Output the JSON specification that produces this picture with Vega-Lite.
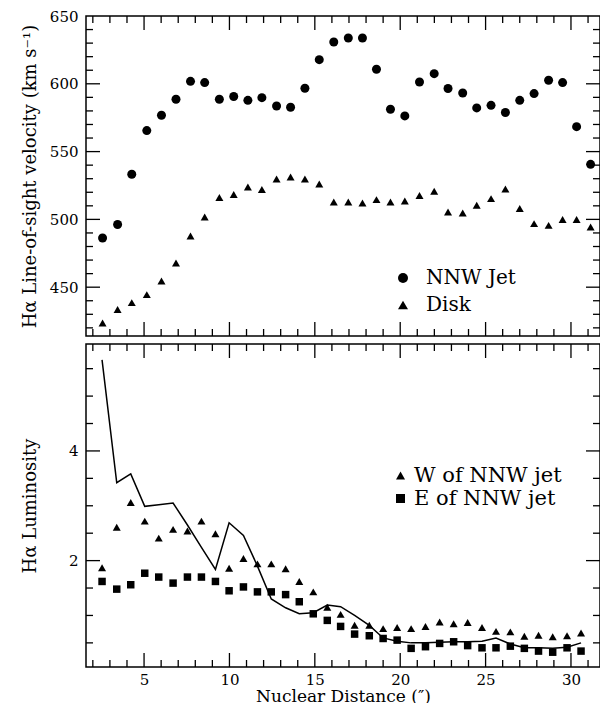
{
  "$schema": "https://vega.github.io/schema/vega-lite/v6.json",
  "padding": {"left": 20, "top": 8, "right": 1, "bottom": 0},
  "spacing": 0,
  "config": {
    "view": {"stroke": "black", "strokeWidth": 1.5},
    "font": "DejaVu Serif",
    "axis": {"labelFont": "DejaVu Serif", "titleFont": "DejaVu Serif", "labelColor": "black", "titleColor": "black", "ticks": false, "domain": false, "grid": false, "labelFontSize": 15, "titleFontSize": 18, "titleFontWeight": "normal", "labelOverlap": false, "labelFlush": false},
    "legend": {"labelFont": "DejaVu Serif", "labelColor": "black", "title": null, "padding": 0, "symbolFillColor": "black", "symbolStrokeColor": "black", "symbolStrokeWidth": 0}
  },
  "datasets": {
    "tx": [
      {"t": 2, "k": "minor"}, {"t": 3, "k": "minor"}, {"t": 4, "k": "minor"}, {"t": 5, "k": "major"}, {"t": 6, "k": "minor"}, {"t": 7, "k": "minor"}, {"t": 8, "k": "minor"}, {"t": 9, "k": "minor"}, {"t": 10, "k": "major"}, {"t": 11, "k": "minor"}, {"t": 12, "k": "minor"}, {"t": 13, "k": "minor"}, {"t": 14, "k": "minor"}, {"t": 15, "k": "major"}, {"t": 16, "k": "minor"}, {"t": 17, "k": "minor"}, {"t": 18, "k": "minor"}, {"t": 19, "k": "minor"}, {"t": 20, "k": "major"}, {"t": 21, "k": "minor"}, {"t": 22, "k": "minor"}, {"t": 23, "k": "minor"}, {"t": 24, "k": "minor"}, {"t": 25, "k": "major"}, {"t": 26, "k": "minor"}, {"t": 27, "k": "minor"}, {"t": 28, "k": "minor"}, {"t": 29, "k": "minor"}, {"t": 30, "k": "major"}, {"t": 31, "k": "minor"}
    ],
    "tv": [
      {"t": 420, "k": "minor"}, {"t": 430, "k": "minor"}, {"t": 440, "k": "minor"}, {"t": 450, "k": "major"}, {"t": 460, "k": "minor"}, {"t": 470, "k": "minor"}, {"t": 480, "k": "minor"}, {"t": 490, "k": "minor"}, {"t": 500, "k": "major"}, {"t": 510, "k": "minor"}, {"t": 520, "k": "minor"}, {"t": 530, "k": "minor"}, {"t": 540, "k": "minor"}, {"t": 550, "k": "major"}, {"t": 560, "k": "minor"}, {"t": 570, "k": "minor"}, {"t": 580, "k": "minor"}, {"t": 590, "k": "minor"}, {"t": 600, "k": "major"}, {"t": 610, "k": "minor"}, {"t": 620, "k": "minor"}, {"t": 630, "k": "minor"}, {"t": 640, "k": "minor"}
    ],
    "tl": [
      {"t": 0.5, "k": "minor"}, {"t": 1, "k": "minor"}, {"t": 1.5, "k": "minor"}, {"t": 2, "k": "major"}, {"t": 2.5, "k": "minor"}, {"t": 3, "k": "minor"}, {"t": 3.5, "k": "minor"}, {"t": 4, "k": "major"}, {"t": 4.5, "k": "minor"}, {"t": 5, "k": "minor"}, {"t": 5.5, "k": "minor"}
    ],
    "vel": [
      {"d": 2.57, "v": 486.3, "s": "NNW Jet"}, {"d": 3.45, "v": 496.2, "s": "NNW Jet"}, {"d": 4.28, "v": 533.3, "s": "NNW Jet"}, {"d": 5.16, "v": 565.5, "s": "NNW Jet"}, {"d": 6.02, "v": 576.8, "s": "NNW Jet"}, {"d": 6.87, "v": 588.6, "s": "NNW Jet"}, {"d": 7.72, "v": 601.8, "s": "NNW Jet"}, {"d": 8.55, "v": 600.9, "s": "NNW Jet"}, {"d": 9.41, "v": 588.6, "s": "NNW Jet"}, {"d": 10.25, "v": 590.6, "s": "NNW Jet"}, {"d": 11.08, "v": 587.8, "s": "NNW Jet"}, {"d": 11.9, "v": 589.8, "s": "NNW Jet"}, {"d": 12.76, "v": 583.6, "s": "NNW Jet"}, {"d": 13.58, "v": 582.7, "s": "NNW Jet"}, {"d": 14.42, "v": 596.7, "s": "NNW Jet"}, {"d": 15.26, "v": 617.8, "s": "NNW Jet"}, {"d": 16.11, "v": 630.8, "s": "NNW Jet"}, {"d": 16.96, "v": 633.8, "s": "NNW Jet"}, {"d": 17.79, "v": 633.8, "s": "NNW Jet"}, {"d": 18.61, "v": 610.7, "s": "NNW Jet"}, {"d": 19.43, "v": 581.2, "s": "NNW Jet"}, {"d": 20.27, "v": 576.3, "s": "NNW Jet"}, {"d": 21.13, "v": 601.3, "s": "NNW Jet"}, {"d": 21.99, "v": 607.5, "s": "NNW Jet"}, {"d": 22.8, "v": 596.5, "s": "NNW Jet"}, {"d": 23.66, "v": 593.2, "s": "NNW Jet"}, {"d": 24.48, "v": 582.2, "s": "NNW Jet"}, {"d": 25.32, "v": 584.1, "s": "NNW Jet"}, {"d": 26.16, "v": 578.8, "s": "NNW Jet"}, {"d": 27.0, "v": 587.8, "s": "NNW Jet"}, {"d": 27.84, "v": 592.8, "s": "NNW Jet"}, {"d": 28.69, "v": 602.6, "s": "NNW Jet"}, {"d": 29.51, "v": 600.9, "s": "NNW Jet"}, {"d": 30.33, "v": 568.4, "s": "NNW Jet"}, {"d": 31.15, "v": 540.6, "s": "NNW Jet"},
      {"d": 2.57, "v": 423.6, "s": "Disk"}, {"d": 3.45, "v": 433.5, "s": "Disk"}, {"d": 4.28, "v": 438.6, "s": "Disk"}, {"d": 5.16, "v": 444.5, "s": "Disk"}, {"d": 6.02, "v": 454.6, "s": "Disk"}, {"d": 6.87, "v": 467.8, "s": "Disk"}, {"d": 7.72, "v": 487.8, "s": "Disk"}, {"d": 8.55, "v": 501.8, "s": "Disk"}, {"d": 9.41, "v": 516.1, "s": "Disk"}, {"d": 10.25, "v": 518.3, "s": "Disk"}, {"d": 11.08, "v": 523.9, "s": "Disk"}, {"d": 11.9, "v": 522.0, "s": "Disk"}, {"d": 12.76, "v": 529.8, "s": "Disk"}, {"d": 13.58, "v": 531.3, "s": "Disk"}, {"d": 14.42, "v": 529.8, "s": "Disk"}, {"d": 15.26, "v": 526.1, "s": "Disk"}, {"d": 16.11, "v": 512.8, "s": "Disk"}, {"d": 16.96, "v": 512.8, "s": "Disk"}, {"d": 17.79, "v": 512.1, "s": "Disk"}, {"d": 18.61, "v": 514.6, "s": "Disk"}, {"d": 19.43, "v": 512.8, "s": "Disk"}, {"d": 20.27, "v": 513.6, "s": "Disk"}, {"d": 21.13, "v": 517.6, "s": "Disk"}, {"d": 21.99, "v": 520.7, "s": "Disk"}, {"d": 22.8, "v": 505.5, "s": "Disk"}, {"d": 23.66, "v": 504.7, "s": "Disk"}, {"d": 24.48, "v": 510.4, "s": "Disk"}, {"d": 25.32, "v": 515.3, "s": "Disk"}, {"d": 26.16, "v": 522.4, "s": "Disk"}, {"d": 27.0, "v": 508.0, "s": "Disk"}, {"d": 27.84, "v": 496.9, "s": "Disk"}, {"d": 28.69, "v": 495.6, "s": "Disk"}, {"d": 29.51, "v": 499.9, "s": "Disk"}, {"d": 30.33, "v": 499.9, "s": "Disk"}, {"d": 31.15, "v": 494.4, "s": "Disk"}
    ],
    "lum": [
      {"d": 2.54, "L": 5.66, "s": "total"}, {"d": 3.40, "L": 3.42, "s": "total"}, {"d": 4.22, "L": 3.58, "s": "total"}, {"d": 5.04, "L": 2.99, "s": "total"}, {"d": 5.86, "L": 3.02, "s": "total"}, {"d": 6.70, "L": 3.05, "s": "total"}, {"d": 7.54, "L": 2.65, "s": "total"}, {"d": 8.36, "L": 2.24, "s": "total"}, {"d": 9.18, "L": 1.84, "s": "total"}, {"d": 9.98, "L": 2.69, "s": "total"}, {"d": 10.82, "L": 2.46, "s": "total"}, {"d": 11.64, "L": 1.90, "s": "total"}, {"d": 12.45, "L": 1.30, "s": "total"}, {"d": 13.29, "L": 1.14, "s": "total"}, {"d": 14.09, "L": 1.03, "s": "total"}, {"d": 14.91, "L": 1.05, "s": "total"}, {"d": 15.73, "L": 1.19, "s": "total"}, {"d": 16.51, "L": 1.16, "s": "total"}, {"d": 17.33, "L": 1.0, "s": "total"}, {"d": 18.19, "L": 0.82, "s": "total"}, {"d": 19.0, "L": 0.59, "s": "total"}, {"d": 19.82, "L": 0.53, "s": "total"}, {"d": 20.64, "L": 0.50, "s": "total"}, {"d": 21.48, "L": 0.50, "s": "total"}, {"d": 22.31, "L": 0.51, "s": "total"}, {"d": 23.13, "L": 0.52, "s": "total"}, {"d": 23.95, "L": 0.52, "s": "total"}, {"d": 24.79, "L": 0.53, "s": "total"}, {"d": 25.61, "L": 0.59, "s": "total"}, {"d": 26.45, "L": 0.48, "s": "total"}, {"d": 27.27, "L": 0.41, "s": "total"}, {"d": 28.1, "L": 0.41, "s": "total"}, {"d": 28.93, "L": 0.40, "s": "total"}, {"d": 29.77, "L": 0.42, "s": "total"}, {"d": 30.59, "L": 0.50, "s": "total"},
      {"d": 2.54, "L": 1.87, "s": "W of NNW jet"}, {"d": 3.40, "L": 2.61, "s": "W of NNW jet"}, {"d": 4.22, "L": 3.06, "s": "W of NNW jet"}, {"d": 5.04, "L": 2.72, "s": "W of NNW jet"}, {"d": 5.86, "L": 2.41, "s": "W of NNW jet"}, {"d": 6.70, "L": 2.57, "s": "W of NNW jet"}, {"d": 7.54, "L": 2.54, "s": "W of NNW jet"}, {"d": 8.36, "L": 2.72, "s": "W of NNW jet"}, {"d": 9.18, "L": 2.49, "s": "W of NNW jet"}, {"d": 9.98, "L": 1.86, "s": "W of NNW jet"}, {"d": 10.82, "L": 2.04, "s": "W of NNW jet"}, {"d": 11.64, "L": 1.94, "s": "W of NNW jet"}, {"d": 12.45, "L": 1.94, "s": "W of NNW jet"}, {"d": 13.29, "L": 1.85, "s": "W of NNW jet"}, {"d": 14.09, "L": 1.62, "s": "W of NNW jet"}, {"d": 14.91, "L": 1.43, "s": "W of NNW jet"}, {"d": 15.73, "L": 1.15, "s": "W of NNW jet"}, {"d": 16.51, "L": 1.02, "s": "W of NNW jet"}, {"d": 17.33, "L": 0.82, "s": "W of NNW jet"}, {"d": 18.19, "L": 0.82, "s": "W of NNW jet"}, {"d": 19.0, "L": 0.76, "s": "W of NNW jet"}, {"d": 19.82, "L": 0.78, "s": "W of NNW jet"}, {"d": 20.64, "L": 0.76, "s": "W of NNW jet"}, {"d": 21.48, "L": 0.80, "s": "W of NNW jet"}, {"d": 22.31, "L": 0.88, "s": "W of NNW jet"}, {"d": 23.13, "L": 0.85, "s": "W of NNW jet"}, {"d": 23.95, "L": 0.87, "s": "W of NNW jet"}, {"d": 24.79, "L": 0.78, "s": "W of NNW jet"}, {"d": 25.61, "L": 0.71, "s": "W of NNW jet"}, {"d": 26.45, "L": 0.70, "s": "W of NNW jet"}, {"d": 27.27, "L": 0.62, "s": "W of NNW jet"}, {"d": 28.1, "L": 0.64, "s": "W of NNW jet"}, {"d": 28.93, "L": 0.61, "s": "W of NNW jet"}, {"d": 29.77, "L": 0.63, "s": "W of NNW jet"}, {"d": 30.59, "L": 0.68, "s": "W of NNW jet"},
      {"d": 2.54, "L": 1.62, "s": "E of NNW jet"}, {"d": 3.40, "L": 1.48, "s": "E of NNW jet"}, {"d": 4.22, "L": 1.56, "s": "E of NNW jet"}, {"d": 5.04, "L": 1.77, "s": "E of NNW jet"}, {"d": 5.86, "L": 1.70, "s": "E of NNW jet"}, {"d": 6.70, "L": 1.59, "s": "E of NNW jet"}, {"d": 7.54, "L": 1.70, "s": "E of NNW jet"}, {"d": 8.36, "L": 1.70, "s": "E of NNW jet"}, {"d": 9.18, "L": 1.62, "s": "E of NNW jet"}, {"d": 9.98, "L": 1.45, "s": "E of NNW jet"}, {"d": 10.82, "L": 1.52, "s": "E of NNW jet"}, {"d": 11.64, "L": 1.43, "s": "E of NNW jet"}, {"d": 12.45, "L": 1.43, "s": "E of NNW jet"}, {"d": 13.29, "L": 1.38, "s": "E of NNW jet"}, {"d": 14.09, "L": 1.25, "s": "E of NNW jet"}, {"d": 14.91, "L": 1.03, "s": "E of NNW jet"}, {"d": 15.73, "L": 0.91, "s": "E of NNW jet"}, {"d": 16.51, "L": 0.80, "s": "E of NNW jet"}, {"d": 17.33, "L": 0.66, "s": "E of NNW jet"}, {"d": 18.19, "L": 0.63, "s": "E of NNW jet"}, {"d": 19.0, "L": 0.58, "s": "E of NNW jet"}, {"d": 19.82, "L": 0.55, "s": "E of NNW jet"}, {"d": 20.64, "L": 0.40, "s": "E of NNW jet"}, {"d": 21.48, "L": 0.43, "s": "E of NNW jet"}, {"d": 22.31, "L": 0.49, "s": "E of NNW jet"}, {"d": 23.13, "L": 0.52, "s": "E of NNW jet"}, {"d": 23.95, "L": 0.45, "s": "E of NNW jet"}, {"d": 24.79, "L": 0.41, "s": "E of NNW jet"}, {"d": 25.61, "L": 0.41, "s": "E of NNW jet"}, {"d": 26.45, "L": 0.44, "s": "E of NNW jet"}, {"d": 27.27, "L": 0.40, "s": "E of NNW jet"}, {"d": 28.1, "L": 0.35, "s": "E of NNW jet"}, {"d": 28.93, "L": 0.33, "s": "E of NNW jet"}, {"d": 29.77, "L": 0.41, "s": "E of NNW jet"}, {"d": 30.59, "L": 0.35, "s": "E of NNW jet"}
    ]
  },
  "resolve": {"scale": {"shape": "independent"}, "legend": {"shape": "independent"}},
  "vconcat": [
    {
      "width": 514,
      "height": 320,
      "resolve": {"axis": {"x": "independent", "y": "independent"}},
      "layer": [
        {
          "data": {"name": "vel"},
          "transform": [{"filter": "datum.s === 'NNW Jet'"}],
          "mark": {"type": "point", "filled": true, "color": "black", "opacity": 1, "size": 81},
          "encoding": {
            "x": {"field": "d", "type": "quantitative", "scale": {"domain": [1.6, 31.7], "nice": false, "zero": false},
              "axis": {"orient": "bottom", "values": [5,10,15,20,25,30], "labels": false, "title": null}},
            "y": {"field": "v", "type": "quantitative", "scale": {"domain": [414, 650], "nice": false, "zero": false},
              "axis": {"orient": "left", "values": [450,500,550,600,650], "labelPadding": 8,
                "title": "Hα Line-of-sight velocity (km s⁻¹)", "minExtent": 40, "maxExtent": 40, "titlePadding": 7}},
            "shape": {"field": "s", "type": "nominal", "scale": {"domain": ["NNW Jet", "Disk"], "range": ["circle", "triangle-up"]},
              "legend": {"orient": "none", "legendX": 307, "legendY": 252, "labelFontSize": 20, "symbolSize": 100, "labelOffset": 13, "rowPadding": 7}}
          }
        },
        {
          "data": {"name": "vel"},
          "transform": [{"filter": "datum.s === 'Disk'"}],
          "mark": {"type": "point", "filled": true, "color": "black", "opacity": 1, "size": 64},
          "encoding": {
            "x": {"field": "d", "type": "quantitative", "axis": null},
            "y": {"field": "v", "type": "quantitative", "axis": null},
            "shape": {"field": "s", "type": "nominal", "scale": {"domain": ["NNW Jet", "Disk"], "range": ["circle", "triangle-up"]},
              "legend": {"orient": "none", "legendX": 307, "legendY": 252, "labelFontSize": 20, "symbolSize": 100, "labelOffset": 13, "rowPadding": 7}}
          }
        },
        {"data": {"name": "tx"}, "transform": [{"filter": "datum.k === 'major'"}],
          "mark": {"type": "point", "shape": "M0,0V-2", "filled": false, "color": "black", "stroke": "black", "strokeWidth": 1.3, "opacity": 1, "size": 196},
          "encoding": {"x": {"field": "t", "type": "quantitative", "axis": null}, "y": {"datum": 414, "type": "quantitative", "axis": null}}},
        {"data": {"name": "tx"}, "transform": [{"filter": "datum.k === 'minor'"}],
          "mark": {"type": "point", "shape": "M0,0V-2", "filled": false, "color": "black", "stroke": "black", "strokeWidth": 1.3, "opacity": 1, "size": 49},
          "encoding": {"x": {"field": "t", "type": "quantitative", "axis": null}, "y": {"datum": 414, "type": "quantitative", "axis": null}}},
        {"data": {"name": "tx"}, "transform": [{"filter": "datum.k === 'major'"}],
          "mark": {"type": "point", "shape": "M0,0V2", "filled": false, "color": "black", "stroke": "black", "strokeWidth": 1.3, "opacity": 1, "size": 196},
          "encoding": {"x": {"field": "t", "type": "quantitative", "axis": null}, "y": {"datum": 650, "type": "quantitative", "axis": null}}},
        {"data": {"name": "tx"}, "transform": [{"filter": "datum.k === 'minor'"}],
          "mark": {"type": "point", "shape": "M0,0V2", "filled": false, "color": "black", "stroke": "black", "strokeWidth": 1.3, "opacity": 1, "size": 49},
          "encoding": {"x": {"field": "t", "type": "quantitative", "axis": null}, "y": {"datum": 650, "type": "quantitative", "axis": null}}},
        {"data": {"name": "tv"}, "transform": [{"filter": "datum.k === 'major'"}],
          "mark": {"type": "point", "shape": "M0,0H2", "filled": false, "color": "black", "stroke": "black", "strokeWidth": 1.3, "opacity": 1, "size": 196},
          "encoding": {"y": {"field": "t", "type": "quantitative", "axis": null}, "x": {"datum": 1.6, "type": "quantitative", "axis": null}}},
        {"data": {"name": "tv"}, "transform": [{"filter": "datum.k === 'minor'"}],
          "mark": {"type": "point", "shape": "M0,0H2", "filled": false, "color": "black", "stroke": "black", "strokeWidth": 1.3, "opacity": 1, "size": 49},
          "encoding": {"y": {"field": "t", "type": "quantitative", "axis": null}, "x": {"datum": 1.6, "type": "quantitative", "axis": null}}},
        {"data": {"name": "tv"}, "transform": [{"filter": "datum.k === 'major'"}],
          "mark": {"type": "point", "shape": "M0,0H-2", "filled": false, "color": "black", "stroke": "black", "strokeWidth": 1.3, "opacity": 1, "size": 196},
          "encoding": {"y": {"field": "t", "type": "quantitative", "axis": null}, "x": {"datum": 31.7, "type": "quantitative", "axis": null}}},
        {"data": {"name": "tv"}, "transform": [{"filter": "datum.k === 'minor'"}],
          "mark": {"type": "point", "shape": "M0,0H-2", "filled": false, "color": "black", "stroke": "black", "strokeWidth": 1.3, "opacity": 1, "size": 49},
          "encoding": {"y": {"field": "t", "type": "quantitative", "axis": null}, "x": {"datum": 31.7, "type": "quantitative", "axis": null}}}
      ]
    },
    {
      "width": 514,
      "height": 323,
      "resolve": {"axis": {"x": "independent", "y": "independent"}},
      "layer": [
        {
          "data": {"name": "lum"},
          "transform": [{"filter": "datum.s === 'total'"}],
          "mark": {"type": "line", "color": "black", "strokeWidth": 1.5},
          "encoding": {
            "x": {"field": "d", "type": "quantitative", "scale": {"domain": [1.6, 31.7], "nice": false, "zero": false},
              "axis": {"orient": "bottom", "values": [5,10,15,20,25,30], "labelPadding": 5,
                "title": "Nuclear Distance (″)", "titleFontSize": 17, "titlePadding": 1}},
            "y": {"field": "L", "type": "quantitative", "scale": {"domain": [0.06, 5.95], "nice": false, "zero": false},
              "axis": {"orient": "left", "values": [2, 4], "format": "d", "labelPadding": 8,
                "title": "Hα Luminosity", "minExtent": 40, "maxExtent": 40, "titlePadding": 7}}
          }
        },
        {
          "data": {"name": "lum"},
          "transform": [{"filter": "datum.s === 'W of NNW jet'"}],
          "mark": {"type": "point", "filled": true, "color": "black", "opacity": 1, "size": 64},
          "encoding": {
            "x": {"field": "d", "type": "quantitative", "axis": null},
            "y": {"field": "L", "type": "quantitative", "axis": null},
            "shape": {"field": "s", "type": "nominal", "scale": {"domain": ["W of NNW jet", "E of NNW jet"], "range": ["triangle-up", "square"]},
              "legend": {"orient": "none", "legendX": 304, "legendY": 121, "labelFontSize": 21, "symbolSize": 81, "labelOffset": 3, "rowPadding": 1}}
          }
        },
        {
          "data": {"name": "lum"},
          "transform": [{"filter": "datum.s === 'E of NNW jet'"}],
          "mark": {"type": "point", "filled": true, "color": "black", "opacity": 1, "size": 56},
          "encoding": {
            "x": {"field": "d", "type": "quantitative", "axis": null},
            "y": {"field": "L", "type": "quantitative", "axis": null},
            "shape": {"field": "s", "type": "nominal", "scale": {"domain": ["W of NNW jet", "E of NNW jet"], "range": ["triangle-up", "square"]},
              "legend": {"orient": "none", "legendX": 304, "legendY": 121, "labelFontSize": 21, "symbolSize": 81, "labelOffset": 3, "rowPadding": 1}}
          }
        },
        {"data": {"name": "tx"}, "transform": [{"filter": "datum.k === 'major'"}],
          "mark": {"type": "point", "shape": "M0,0V-2", "filled": false, "color": "black", "stroke": "black", "strokeWidth": 1.3, "opacity": 1, "size": 196},
          "encoding": {"x": {"field": "t", "type": "quantitative", "axis": null}, "y": {"datum": 0.06, "type": "quantitative", "axis": null}}},
        {"data": {"name": "tx"}, "transform": [{"filter": "datum.k === 'minor'"}],
          "mark": {"type": "point", "shape": "M0,0V-2", "filled": false, "color": "black", "stroke": "black", "strokeWidth": 1.3, "opacity": 1, "size": 49},
          "encoding": {"x": {"field": "t", "type": "quantitative", "axis": null}, "y": {"datum": 0.06, "type": "quantitative", "axis": null}}},
        {"data": {"name": "tx"}, "transform": [{"filter": "datum.k === 'major'"}],
          "mark": {"type": "point", "shape": "M0,0V2", "filled": false, "color": "black", "stroke": "black", "strokeWidth": 1.3, "opacity": 1, "size": 196},
          "encoding": {"x": {"field": "t", "type": "quantitative", "axis": null}, "y": {"datum": 5.95, "type": "quantitative", "axis": null}}},
        {"data": {"name": "tx"}, "transform": [{"filter": "datum.k === 'minor'"}],
          "mark": {"type": "point", "shape": "M0,0V2", "filled": false, "color": "black", "stroke": "black", "strokeWidth": 1.3, "opacity": 1, "size": 49},
          "encoding": {"x": {"field": "t", "type": "quantitative", "axis": null}, "y": {"datum": 5.95, "type": "quantitative", "axis": null}}},
        {"data": {"name": "tl"}, "transform": [{"filter": "datum.k === 'major'"}],
          "mark": {"type": "point", "shape": "M0,0H2", "filled": false, "color": "black", "stroke": "black", "strokeWidth": 1.3, "opacity": 1, "size": 196},
          "encoding": {"y": {"field": "t", "type": "quantitative", "axis": null}, "x": {"datum": 1.6, "type": "quantitative", "axis": null}}},
        {"data": {"name": "tl"}, "transform": [{"filter": "datum.k === 'minor'"}],
          "mark": {"type": "point", "shape": "M0,0H2", "filled": false, "color": "black", "stroke": "black", "strokeWidth": 1.3, "opacity": 1, "size": 49},
          "encoding": {"y": {"field": "t", "type": "quantitative", "axis": null}, "x": {"datum": 1.6, "type": "quantitative", "axis": null}}},
        {"data": {"name": "tl"}, "transform": [{"filter": "datum.k === 'major'"}],
          "mark": {"type": "point", "shape": "M0,0H-2", "filled": false, "color": "black", "stroke": "black", "strokeWidth": 1.3, "opacity": 1, "size": 196},
          "encoding": {"y": {"field": "t", "type": "quantitative", "axis": null}, "x": {"datum": 31.7, "type": "quantitative", "axis": null}}},
        {"data": {"name": "tl"}, "transform": [{"filter": "datum.k === 'minor'"}],
          "mark": {"type": "point", "shape": "M0,0H-2", "filled": false, "color": "black", "stroke": "black", "strokeWidth": 1.3, "opacity": 1, "size": 49},
          "encoding": {"y": {"field": "t", "type": "quantitative", "axis": null}, "x": {"datum": 31.7, "type": "quantitative", "axis": null}}}
      ]
    }
  ]
}
